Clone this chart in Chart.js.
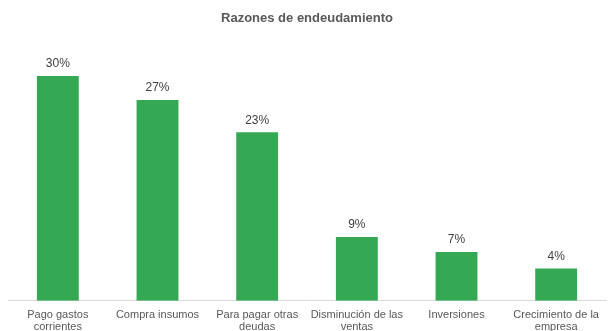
<!DOCTYPE html>
<html>
<head>
<meta charset="utf-8">
<script src="https://cdn.jsdelivr.net/npm/chart.js@4"></script>
<style>
  html, body { margin: 0; padding: 0; background: #fff; overflow: hidden; }
  #wrap { width: 610px; height: 341px; }
</style>
</head>
<body>
<div id="wrap"><canvas id="razones"></canvas></div>
<script>
const categories = [
    ['Pago gastos', 'corrientes'],
    'Compra insumos',
    ['Para pagar otras', 'deudas'],
    ['Disminución de las', 'ventas'],
    'Inversiones',
    ['Crecimiento de la', 'empresa'],
];
const percentages = [30, 26.8, 22.5, 8.5, 6.5, 4.3];

const textColor = '#595959';

// value labels above the bars
const barLabels = {
    id: 'barLabels',
    afterDatasetsDraw(chart) {
        const ctx = chart.ctx;
        const meta = chart.getDatasetMeta(0);
        ctx.save();
        ctx.font = '12px "Liberation Sans", Arial, sans-serif';
        ctx.fillStyle = '#404040';
        ctx.textAlign = 'center';
        ctx.textBaseline = 'middle';
        meta.data.forEach((bar, i) => {
            ctx.fillText(Math.round(percentages[i]) + '%', bar.x, bar.y - 12);
        });
        ctx.restore();
    }
};

new Chart(document.getElementById('razones'), {
    type: 'bar',
    data: {
        labels: categories,
        datasets: [{
            data: percentages,
            backgroundColor: '#34a853',
            barPercentage: 0.42,
            categoryPercentage: 1,
        }]
    },
    options: {
        responsive: true,
        maintainAspectRatio: false,
        animation: false,
        layout: { padding: { left: 8, right: 4, top: 0, bottom: 0 } },
        plugins: {
            legend: { display: false },
            tooltip: { enabled: false },
            title: {
                display: true,
                text: 'Razones de endeudamiento',
                color: textColor,
                font: { family: '"Liberation Sans", Arial, sans-serif', size: 13, weight: 'bold' },
                padding: { top: 11, bottom: 12 },
            },
        },
        scales: {
            x: {
                grid: { display: false, drawTicks: false },
                border: { display: true, color: '#d9d9d9', width: 1 },
                ticks: {
                    color: textColor,
                    padding: 8,
                    maxRotation: 0,
                    autoSkip: false,
                    font: { family: '"Liberation Sans", Arial, sans-serif', size: 11, lineHeight: 1.1 },
                },
            },
            y: {
                display: false,
                min: 0,
                max: 35,
            },
        },
    },
    plugins: [barLabels],
});
</script>
</body>
</html>
